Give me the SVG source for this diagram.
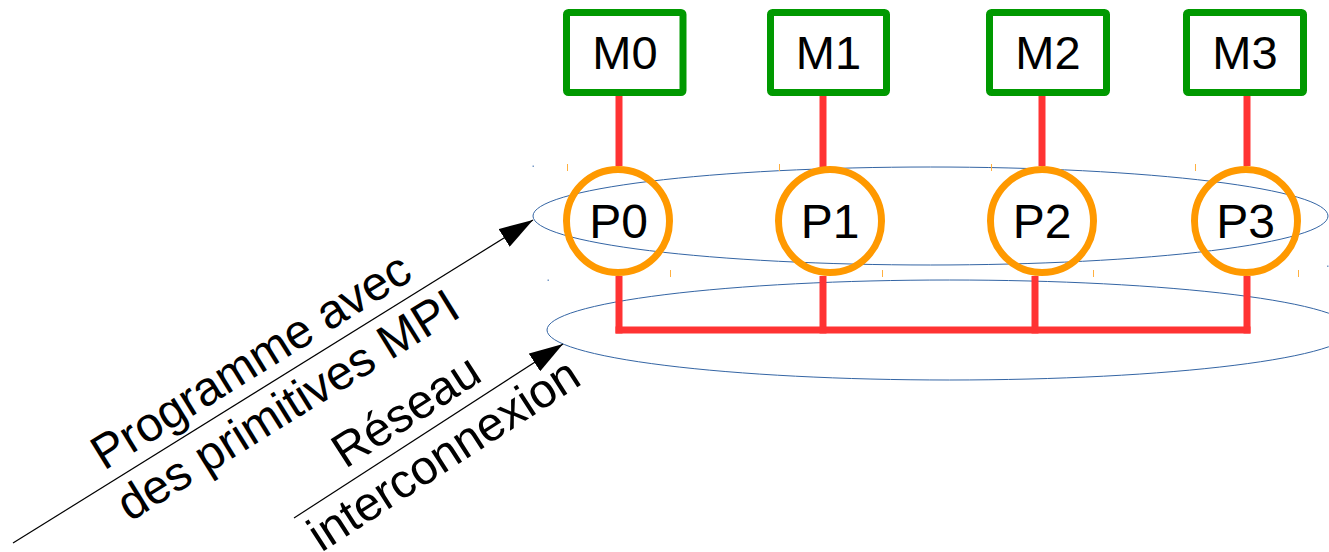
<svg xmlns="http://www.w3.org/2000/svg" width="1329" height="552" viewBox="0 0 1329 552">
  <style>
    .lbl { font-family: "Liberation Sans", Arial, sans-serif; font-size: 47px; fill: #000; }
    .big { font-size: 48px; }
    .mid { text-anchor: middle; }
    .mem { fill: none; stroke: #009900; stroke-width: 7; }
    .proc { fill: none; stroke: #ff9900; stroke-width: 7; }
    .wire { stroke: #ff3333; stroke-width: 7; fill: none; }
    .zone { fill: none; stroke: #3465a4; stroke-width: 1; }
    .ptr { stroke: #000; stroke-width: 1.2; fill: none; marker-end: url(#head); }
    .tick { stroke: #ffb040; stroke-width: 1; }
    .dot { fill: #7a9cc8; }
  </style>
  <defs>
    <marker id="head" viewBox="0 0 34 21" markerWidth="34" markerHeight="21" refX="34" refY="10.5" orient="auto" markerUnits="userSpaceOnUse">
      <path d="M0,0 L34,10.5 L0,21 z" fill="#000"/>
    </marker>
  </defs>

  <!-- program and network zones -->
  <g id="zones">
    <ellipse class="zone" cx="930.5" cy="216" rx="397.5" ry="49"/>
    <ellipse class="zone" cx="949.5" cy="330" rx="402.5" ry="50"/>
    <rect class="dot" x="532.5" y="165.5" width="1.5" height="1.5"/>
    <rect class="dot" x="547.5" y="279.5" width="1.5" height="1.5"/>
    <rect class="dot" x="1327" y="265.5" width="1.5" height="1.5"/>
  </g>

  <!-- memory / processor links and interconnect bus -->
  <g id="connectors">
    <line class="wire" x1="619" y1="96" x2="619" y2="166"/>
    <line class="wire" x1="823" y1="96" x2="823" y2="168"/>
    <line class="wire" x1="1042" y1="96" x2="1042" y2="166"/>
    <line class="wire" x1="1247" y1="96" x2="1247" y2="166"/>
    <line class="wire" x1="619" y1="276" x2="619" y2="333.5"/>
    <line class="wire" x1="823" y1="276" x2="823" y2="333.5"/>
    <line class="wire" x1="1035" y1="276" x2="1035" y2="333.5"/>
    <line class="wire" x1="1247" y1="276" x2="1247" y2="333.5"/>
    <line class="wire" x1="615.5" y1="330" x2="1250.5" y2="330"/>
    <line class="ptr" x1="13" y1="543" x2="533" y2="220"/>
    <line class="ptr" x1="294" y1="518" x2="563" y2="344"/>
  </g>

  <!-- memories -->
  <g id="M0">
    <rect class="mem" x="566.5" y="12.5" width="116.5" height="80" rx="2"/>
    <text class="lbl mid" x="625" y="69">M0</text>
  </g>
  <g id="M1">
    <rect class="mem" x="770.5" y="12.5" width="116" height="80" rx="2"/>
    <text class="lbl mid" x="828.5" y="69">M1</text>
  </g>
  <g id="M2">
    <rect class="mem" x="989.5" y="12.5" width="117" height="80" rx="2"/>
    <text class="lbl mid" x="1048" y="69">M2</text>
  </g>
  <g id="M3">
    <rect class="mem" x="1186.5" y="12.5" width="117" height="80" rx="2"/>
    <text class="lbl mid" x="1245" y="69">M3</text>
  </g>

  <!-- processors -->
  <g id="P0">
    <circle class="proc" cx="618" cy="221" r="51.5"/>
    <text class="lbl big mid" x="618.5" y="238">P0</text>
  </g>
  <g id="P1">
    <circle class="proc" cx="830" cy="221" r="51.5"/>
    <text class="lbl big mid" x="830" y="238">P1</text>
  </g>
  <g id="P2">
    <circle class="proc" cx="1042" cy="221" r="51.5"/>
    <text class="lbl big mid" x="1042" y="238">P2</text>
  </g>
  <g id="P3">
    <circle class="proc" cx="1246" cy="221" r="51.5"/>
    <text class="lbl big mid" x="1245.5" y="238">P3</text>
  </g>

  <!-- small bounding marks around the processors -->
  <g id="marks">
    <line class="tick" x1="567.5" y1="164" x2="567.5" y2="171"/>
    <line class="tick" x1="779.5" y1="164" x2="779.5" y2="171"/>
    <line class="tick" x1="991.5" y1="164" x2="991.5" y2="171"/>
    <line class="tick" x1="1195.5" y1="164" x2="1195.5" y2="171"/>
    <line class="tick" x1="670.5" y1="270" x2="670.5" y2="277"/>
    <line class="tick" x1="882.5" y1="270" x2="882.5" y2="277"/>
    <line class="tick" x1="1093.5" y1="270" x2="1093.5" y2="277"/>
    <line class="tick" x1="1298.5" y1="270" x2="1298.5" y2="277"/>
  </g>

  <!-- pointer captions -->
  <g id="label-programme" transform="translate(273,381.5) rotate(-31.85)">
    <text class="lbl big mid" x="-8" y="-13">Programme avec</text>
    <text class="lbl big mid" x="0" y="44">des primitives MPI</text>
  </g>
  <g id="label-reseau" transform="translate(428.5,431) rotate(-32.9)">
    <text class="lbl big mid" x="-8" y="-13">Réseau</text>
    <text class="lbl big mid" x="0" y="44">interconnexion</text>
  </g>
</svg>
